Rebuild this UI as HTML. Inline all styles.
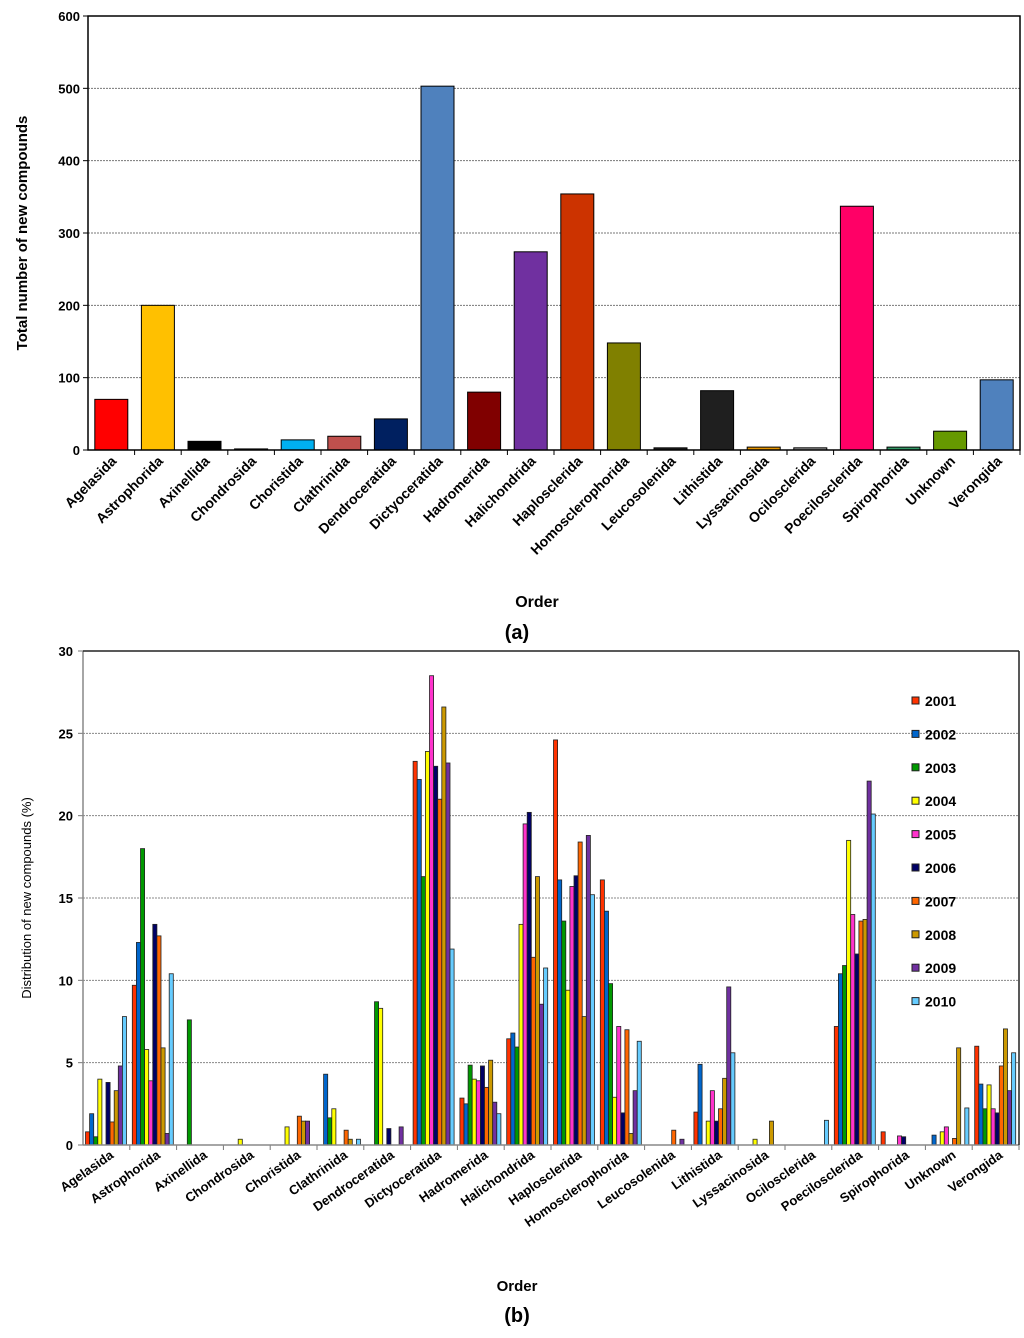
<!DOCTYPE html>
<html><head><meta charset="utf-8"><style>
body{margin:0;background:#fff;}
svg text{font-family:"Liberation Sans",Arial,sans-serif;}
</style></head><body>
<svg id="s" width="1024" height="1333" xmlns="http://www.w3.org/2000/svg"></svg>
<script>
const categories=["Agelasida","Astrophorida","Axinellida","Chondrosida","Choristida","Clathrinida","Dendroceratida","Dictyoceratida","Hadromerida","Halichondrida","Haplosclerida","Homosclerophorida","Leucosolenida","Lithistida","Lyssacinosida","Ocilosclerida","Poecilosclerida","Spirophorida","Unknown","Verongida"];
const catLabels=["Agelasida","Astrophorida","Axinellida","Chondrosida","Choristida","Clathrinida","Dendroceratida","Dictyoceratida","Hadromerida","Halichondrida","Haplosclerida","Homosclerophorida","Leucosolenida","Lithistida","Lyssacinosida","Ocilosclerida","Poecilosclerida","Spirophorida","Unknown","Verongida"];
const totals=[70,200,12,1.5,14,19,43,503,80,274,354,148,3,82,4,3,337,4,26,97];
const totalColors=["#FF0000","#FFC000","#000000","#333333","#00B0F0","#C0504D","#002060","#4F81BD","#800000","#7030A0","#CC3300","#808000","#222222","#1F1F1F","#E69500","#999999","#FF0066","#339966","#669900","#4F81BD"];
const topTicks=[0,100,200,300,400,500,600];
const years=["2001","2002","2003","2004","2005","2006","2007","2008","2009","2010"];
const yearColors=["#FF3300","#0066CC","#009900","#FFFF00","#FF33CC","#000066","#FF6600","#CC9900","#7030A0","#66CCFF"];
const s2001=[0.8,9.7,0,0,0,0,0,23.3,2.85,6.45,24.6,16.1,0,2.0,0,0,7.2,0.8,0,6.0];
const s2002=[1.9,12.3,0,0,0,4.3,0,22.2,2.5,6.8,16.1,14.2,0,4.9,0,0,10.4,0,0.6,3.7];
const s2003=[0.5,18.0,7.6,0,0,1.65,8.7,16.3,4.85,5.95,13.6,9.8,0,0,0,0,10.9,0,0,2.2];
const s2004=[4.0,5.8,0,0.35,1.1,2.2,8.3,23.9,4.0,13.4,9.4,2.9,0,1.45,0.35,0,18.5,0,0.8,3.65];
const s2005=[0,3.9,0,0,0,0,0,28.5,3.9,19.5,15.7,7.2,0,3.3,0,0,14.0,0.55,1.1,2.2];
const s2006=[3.8,13.4,0,0,0,0,1.0,23.0,4.8,20.2,16.35,1.95,0,1.45,0,0,11.6,0.5,0,1.95];
const s2007=[1.4,12.7,0,0,1.75,0.9,0,21.0,3.5,11.4,18.4,7.0,0.9,2.2,0,0,13.6,0,0.4,4.8];
const s2008=[3.3,5.9,0,0,1.45,0.35,0,26.6,5.15,16.3,7.8,0.7,0,4.05,1.45,0,13.7,0,5.9,7.05];
const s2009=[4.8,0.7,0,0,1.45,0,1.1,23.2,2.6,8.55,18.8,3.3,0.35,9.6,0,0,22.1,0,0,3.3];
const s2010=[7.8,10.4,0,0,0,0.35,0,11.9,1.9,10.75,15.2,6.3,0,5.6,0,1.5,20.1,0,2.25,5.6];
const series=[s2001,s2002,s2003,s2004,s2005,s2006,s2007,s2008,s2009,s2010];
const botTicks=[0,5,10,15,20,25,30];

const NS="http://www.w3.org/2000/svg";
const svg=document.getElementById('s');
function el(t,a,txt){const e=document.createElementNS(NS,t);for(const k in a)e.setAttribute(k,a[k]);if(txt!==undefined)e.textContent=txt;svg.appendChild(e);return e;}

// ---- top chart ----
const T={x0:88,x1:1020,y0:450,y1:16,max:600};
const tx=i=>T.x0+(T.x1-T.x0)/categories.length*(i+0.5);
const ty=v=>T.y0-(v/T.max)*(T.y0-T.y1);
topTicks.forEach(v=>{
  if(v>0&&v<600){let g=el('line',{x1:T.x0,x2:T.x1,y1:ty(v),y2:ty(v),stroke:'#777','stroke-dasharray':'2,1','stroke-width':1});
  }
  let t=el('text',{x:T.x0-8,y:ty(v)+5,'text-anchor':'end','font-size':13,'font-weight':'bold'},v);
  
  let tk=el('line',{x1:T.x0-5,x2:T.x0,y1:ty(v),y2:ty(v),stroke:'#000'});
  
});
totals.forEach((v,i)=>{
  let r=el('rect',{x:tx(i)-16.5,y:ty(v),width:33,height:T.y0-ty(v),fill:totalColors[i],stroke:'#000','stroke-width':1});
  
  let lb=el('text',{x:0,y:0,'text-anchor':'end','font-size':14,'font-weight':'bold',transform:`translate(${tx(i)+6},${T.y0+12}) rotate(-45)`},catLabels[i]);
  
  let tk=el('line',{x1:T.x0+(T.x1-T.x0)/20*(i+1),x2:T.x0+(T.x1-T.x0)/20*(i+1),y1:T.y0,y2:T.y0+5,stroke:'#000'});
  
});
let fr=el('rect',{x:T.x0,y:T.y1,width:T.x1-T.x0,height:T.y0-T.y1,fill:'none',stroke:'#000','stroke-width':1.5});

let yt=el('text',{x:0,y:0,'text-anchor':'middle','font-size':15,'font-weight':'bold',transform:'translate(27,233) rotate(-90)'},'Total number of new compounds');

let xt=el('text',{x:537,y:607,'text-anchor':'middle','font-size':16,'font-weight':'bold'},'Order');

let pa=el('text',{x:517,y:639,'text-anchor':'middle','font-size':20,'font-weight':'bold','font-family':'Liberation Serif, serif'},'(a)');


// ---- bottom chart ----
const B={x0:83,x1:1019,y0:1145,y1:651,max:30};
const cw=(B.x1-B.x0)/categories.length;
const by=v=>B.y0-(v/B.max)*(B.y0-B.y1);
botTicks.forEach(v=>{
  if(v>0&&v<30){let g=el('line',{x1:B.x0,x2:B.x1,y1:by(v),y2:by(v),stroke:'#888','stroke-dasharray':'2,1','stroke-width':1});
  }
  let t=el('text',{x:B.x0-10,y:by(v)+5,'text-anchor':'end','font-size':13,'font-weight':'bold'},v);
  
  let tk=el('line',{x1:B.x0-5,x2:B.x0,y1:by(v),y2:by(v),stroke:'#777'});
  
});
const bw=4.1;
series.forEach((ser,k)=>{
  ser.forEach((v,i)=>{
    if(v<=0)return;
    let r=el('rect',{x:B.x0+cw*i+2.5+k*bw,y:by(v),width:bw,height:B.y0-by(v),fill:yearColors[k],stroke:'#222','stroke-width':0.8});
    
    
  });
});
categories.forEach((c,i)=>{
  let tk=el('line',{x1:B.x0+cw*(i+1),x2:B.x0+cw*(i+1),y1:B.y0,y2:B.y0+5,stroke:'#777'});
  
  let lb=el('text',{x:0,y:0,'text-anchor':'end','font-size':13,'font-weight':'bold',transform:`translate(${B.x0+cw*(i+0.5)+8},${B.y0+12}) rotate(-35)`},catLabels[i]);
  
});
let a1=el('line',{x1:B.x0,x2:B.x1,y1:B.y0,y2:B.y0,stroke:'#888','stroke-width':1.5});

let a2=el('line',{x1:B.x0,x2:B.x0,y1:B.y1,y2:B.y0,stroke:'#888','stroke-width':1.5});

let a3=el('line',{x1:B.x0,x2:B.x1,y1:B.y1,y2:B.y1,stroke:'#222','stroke-width':1.5});

let a4=el('line',{x1:B.x1,x2:B.x1,y1:B.y1,y2:B.y0,stroke:'#222','stroke-width':1.5});

years.forEach((y,k)=>{
  let ly=701+k*33.4;
  let sq=el('rect',{x:912,y:ly-4,width:7,height:7,fill:yearColors[k],stroke:'#222','stroke-width':1});
  
  let t=el('text',{x:925,y:ly+5,'font-size':14,'font-weight':'bold'},y);
  
});
let yt2=el('text',{x:0,y:0,'text-anchor':'middle','font-size':13,transform:'translate(31,898) rotate(-90)'},'Distribution of new compounds (%)');

let xt2=el('text',{x:517,y:1291,'text-anchor':'middle','font-size':15,'font-weight':'bold'},'Order');

let pb=el('text',{x:517,y:1322,'text-anchor':'middle','font-size':20,'font-weight':'bold','font-family':'Liberation Serif, serif'},'(b)');

</script>
</body></html>
